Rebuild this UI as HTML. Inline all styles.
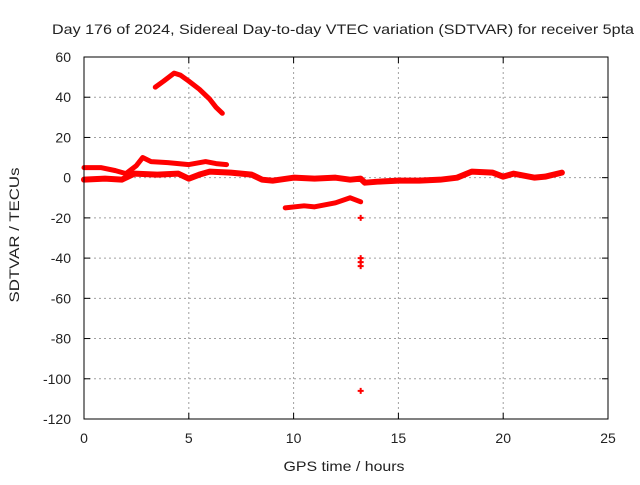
<!DOCTYPE html>
<html><head><meta charset="utf-8"><style>
body{margin:0;background:#fff;}
text{font-family:"Liberation Sans",Arial,sans-serif;font-size:14px;fill:#222;}
</style></head><body>
<svg id="chart" width="640" height="480">
<text x="343" y="34" text-anchor="middle" textLength="582" lengthAdjust="spacingAndGlyphs">Day 176 of 2024, Sidereal Day-to-day VTEC variation (SDTVAR) for receiver 5pta</text>
<text x="344" y="471" text-anchor="middle" textLength="121" lengthAdjust="spacingAndGlyphs">GPS time / hours</text>
<text x="19" y="235" text-anchor="middle" textLength="135" lengthAdjust="spacingAndGlyphs" transform="rotate(-90 19 235)">SDTVAR / TECUs</text>
<g id="grid"></g><g id="marks"></g>
<rect x="84" y="57" width="524" height="362" fill="none" stroke="#000"/>
</svg>
<script>
const xTicks=[0,5,10,15,20,25];
const yTicks=[60,40,20,0,-20,-40,-60,-80,-100,-120];
const arcX=[3.4,3.8,4.3,4.6,5.0,5.5,6.0,6.3,6.6];
const arcY=[45,48,52,51,48,44,39,35,32];
const upperX=[0,0.8,1.5,2.0,2.5,2.8,3.2,4,5,5.8,6.3,6.8];
const upperY=[5,5,3.5,2,6,10,8,7.5,6.5,8,7,6.5];
const lowerX=[0,1,1.8,2.4,3.5,4.5,5.0,5.5,6,7,8,8.5,9,10,11,12,12.7,13.2,13.4,14,15,16,17,17.8,18.5,19.5,20,20.5,21.5,22,22.8];
const lowerY=[-1,-0.5,-1,2,1.5,2,-0.5,1.5,3,2.5,1.5,-1,-1.5,0,-0.5,0,-1,-0.5,-2.5,-2,-1.5,-1.5,-1,0,3,2.5,0.5,2,0,0.5,2.5];
const segX=[9.6,10.5,11,12,12.7,13.2];
const segY=[-15,-14,-14.5,-12.5,-10,-12];
const outX=[13.2,13.2,13.2,13.2,13.2];
const outY=[-20,-40,-42,-44,-106];
const NS="http://www.w3.org/2000/svg";
const sx=v=>84+(v-0)/25*524, sy=v=>57+(60-v)/180*362;
const grid=document.getElementById('grid'), marks=document.getElementById('marks'), svg=document.getElementById('chart');
function mk(t,a,p){const e=document.createElementNS(NS,t);for(const k in a)e.setAttribute(k,a[k]);p.appendChild(e);return e;}
xTicks.forEach(t=>{const x=sx(t);
 if(t>0&&t<25){const l=mk('line',{x1:x,x2:x,y1:57,y2:419,stroke:'#a0a0a0','stroke-dasharray':'2,3'},grid);
 
 }
 mk('line',{x1:x,x2:x,y1:419,y2:413,stroke:'#000'},grid);mk('line',{x1:x,x2:x,y1:57,y2:63,stroke:'#000'},grid);
 const tx=mk('text',{x:x,y:443,'text-anchor':'middle'},svg);tx.textContent=t;
 
 });
yTicks.forEach(t=>{const y=sy(t);
 if(t<60&&t>-120){const l=mk('line',{x1:84,x2:608,y1:y,y2:y,stroke:'#a0a0a0','stroke-dasharray':'2,3'},grid);
 
 }
 mk('line',{x1:84,x2:90,y1:y,y2:y,stroke:'#000'},grid);mk('line',{x1:608,x2:602,y1:y,y2:y,stroke:'#000'},grid);
 const tx=mk('text',{x:71,y:y+5,'text-anchor':'end'},svg);tx.textContent=t;
 
 });
function band(X,Y,w,name){const pts=X.map((x,i)=>sx(x)+','+sy(Y[i])).join(' ');
 const p=mk('polyline',{points:pts,fill:'none',stroke:'#f00','stroke-width':w,'stroke-linejoin':'round','stroke-linecap':'round'},marks);
 
 }
band(arcX,arcY,5,'arc-series');
band(upperX,upperY,5,'upper-band-series');
band(lowerX,lowerY,6,'lower-band-series');
band(segX,segY,5,'negative-segment-series');
outX.forEach((x,i)=>{const cx=sx(x),cy=sy(outY[i]);
 const p=mk('path',{d:`M${cx-3},${cy}h6M${cx},${cy-3}v6`,stroke:'#f00','stroke-width':2},marks);
 
 });
</script>
</body></html>
